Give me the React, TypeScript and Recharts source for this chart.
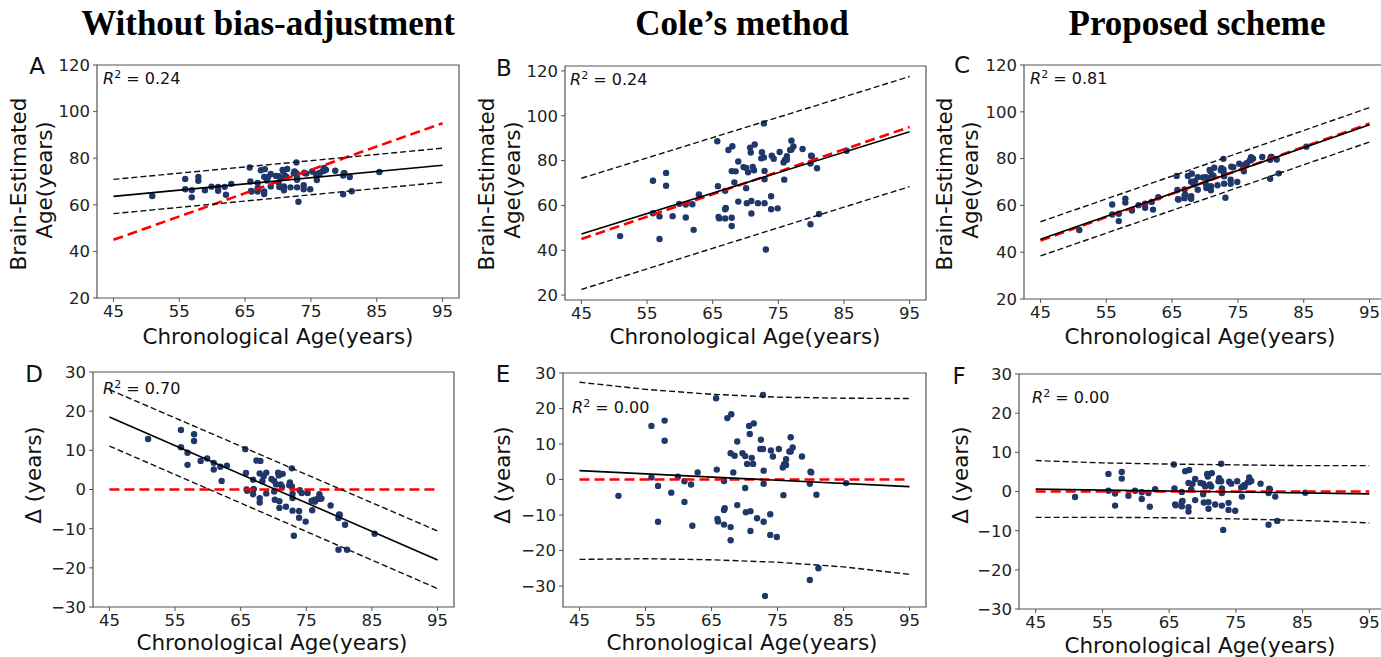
import React from "react";
import { ReferenceArea, Scatter, ScatterChart, XAxis, YAxis } from "recharts";

// chronological ages shared by every panel
const ages = [
  50.9, 55.9, 55.9, 56.9, 56.9, 57.9, 57.9, 58.9, 59.9, 60.9, 60.9, 61.9, 62.1, 62.9,
  65.7, 65.8, 65.9, 66.0, 66.9, 67.0, 66.9, 66.9, 67.4, 68.0, 67.9, 67.9, 67.9, 68.3,
  68.5, 68.9, 68.9, 69.7, 70.1, 70.1, 70.2, 70.4, 70.7, 70.8, 70.9, 70.9, 71.1, 71.3,
  71.4, 71.9, 72.5, 72.4, 72.8, 72.8, 72.9, 72.9, 72.9, 73.1, 73.9, 73.9, 74.0, 74.3,
  74.9, 75.2, 75.8, 75.9, 76.0, 76.3, 76.3, 76.8, 77.0, 77.0, 77.3, 78.7, 79.9, 80.0,
  80.1, 79.9, 80.9, 81.2, 85.4,
];

const brainRaw = [
  63.8, 71.1, 66.7, 66.3, 63.2, 72.0, 70.3, 66.2, 67.8, 67.7, 66.0, 67.7, 64.3, 69.0,
  76.0, 70.0, 65.9, 65.7, 69.4, 67.1, 66.9, 65.7, 74.8, 75.3, 72.0, 65.7, 64.6, 70.4,
  71.9, 73.2, 67.9, 72.4, 72.3, 69.6, 67.6, 71.7, 75.0, 74.4, 67.9, 66.2, 72.4, 72.0,
  75.4, 67.5, 74.3, 73.5, 78.2, 73.6, 71.8, 70.7, 67.5, 61.3, 68.4, 66.7, 73.8, 73.4,
  66.7, 74.3, 72.9, 70.6, 73.2, 73.7, 73.2, 74.5, 75.8, 74.6, 75.0, 74.6, 72.6, 73.6,
  73.6, 64.5, 71.9, 65.8, 74.1,
];

const brainCole = [
  46.3, 71.0, 56.5, 55.1, 45.0, 74.5, 68.8, 55.2, 60.7, 60.4, 54.6, 60.5, 49.1, 64.9,
  88.6, 68.6, 54.8, 54.2, 66.5, 58.9, 58.3, 54.2, 84.7, 86.4, 75.3, 54.5, 50.8, 70.3,
  75.2, 79.6, 61.7, 77.1, 76.7, 67.7, 61.0, 74.8, 85.8, 83.6, 62.0, 56.4, 77.2, 75.7,
  87.2, 61.0, 83.7, 81.0, 96.6, 81.4, 75.4, 71.7, 61.0, 40.3, 64.1, 58.3, 82.2, 80.8,
  58.7, 83.8, 79.2, 71.5, 80.3, 82.0, 80.4, 84.7, 88.9, 84.9, 86.3, 85.2, 78.7, 82.2,
  82.1, 51.6, 76.6, 56.2, 84.4,
];

const brainProposed = [
  49.5, 60.4, 56.1, 56.4, 53.3, 62.9, 61.2, 57.8, 60.1, 60.7, 59.0, 61.5, 58.2, 63.5,
  72.6, 66.6, 62.6, 62.5, 66.8, 64.6, 64.3, 63.1, 72.6, 73.5, 70.1, 63.9, 62.8, 68.9,
  70.5, 72.1, 66.7, 71.9, 72.1, 69.4, 67.4, 71.7, 75.2, 74.6, 68.2, 66.5, 72.9, 72.6,
  76.1, 68.6, 75.9, 75.0, 79.9, 75.4, 73.7, 72.5, 69.3, 63.3, 71.0, 69.2, 76.5, 76.3,
  70.0, 77.8, 76.8, 74.6, 77.3, 78.0, 77.5, 79.2, 80.6, 79.4, 80.0, 80.7, 79.5, 80.7,
  80.7, 71.4, 79.6, 73.7, 85.1,
];

const deltaRaw = [
  12.9, 15.2, 10.8, 9.4, 6.3, 14.1, 12.4, 7.3, 7.9, 6.8, 5.1, 5.8, 2.2, 6.1,
  10.3, 4.2, 0.0, -0.3, 2.5, 0.1, 0.0, -1.2, 7.4, 7.3, 4.1, -2.2, -3.3, 2.1,
  3.4, 4.3, -1.0, 2.7, 2.2, -0.5, -2.6, 1.3, 4.3, 3.6, -3.0, -4.7, 1.3, 0.7,
  4.0, -4.4, 1.8, 1.1, 5.4, 0.8, -1.1, -2.2, -5.4, -11.8, -5.5, -7.2, -0.2, -0.9,
  -8.2, -0.9, -2.9, -5.3, -2.8, -2.6, -3.1, -2.3, -1.2, -2.4, -2.3, -4.1, -7.3, -6.4,
  -6.5, -15.4, -9.0, -15.4, -11.3,
];

const deltaCole = [
  -4.6, 15.1, 0.6, -1.8, -11.9, 16.6, 10.9, -3.7, 0.8, -0.5, -6.3, -1.4, -13.0, 2.0,
  22.9, 2.8, -11.1, -11.8, -0.4, -8.1, -8.6, -12.7, 17.3, 18.4, 7.4, -13.4, -17.1, 2.0,
  6.7, 10.7, -7.2, 7.4, 6.6, -2.4, -9.2, 4.4, 15.1, 12.8, -8.9, -14.5, 6.1, 4.4,
  15.8, -10.9, 11.2, 8.6, 23.8, 8.6, 2.5, -1.2, -11.9, -32.8, -9.8, -15.6, 8.2, 6.5,
  -16.2, 8.6, 3.4, -4.4, 4.3, 5.7, 4.1, 7.9, 11.9, 7.9, 9.0, 6.5, -1.2, 2.2,
  2.0, -28.3, -4.3, -25.0, -1.0,
];

const deltaProposed = [
  -1.4, 4.5, 0.2, -0.5, -3.6, 5.0, 3.3, -1.1, 0.2, -0.2, -1.9, -0.4, -3.9, 0.6,
  6.9, 0.8, -3.3, -3.5, -0.1, -2.4, -2.6, -3.8, 5.2, 5.5, 2.2, -4.0, -5.1, 0.6,
  2.0, 3.2, -2.2, 2.2, 2.0, -0.7, -2.8, 1.3, 4.5, 3.8, -2.7, -4.4, 1.8, 1.3,
  4.7, -3.3, 3.4, 2.6, 7.1, 2.6, 0.8, -0.4, -3.6, -9.8, -2.9, -4.7, 2.5, 2.0,
  -4.9, 2.6, 1.0, -1.3, 1.3, 1.7, 1.2, 2.4, 3.6, 2.4, 2.7, 2.0, -0.4, 0.7,
  0.6, -8.5, -1.3, -7.5, -0.3,
];

// fitted lines and prediction bounds, [age, value]
const identity = [[45, 45], [95, 95]];
const zeroLine = [[45, 0], [95, 0]];

const fitRaw = [[45, 63.6], [95, 77.0]];
const upperRaw = [[45, 70.9], [95, 84.3]];
const lowerRaw = [[45, 56.2], [95, 69.7]];

const fitCole = [[45, 47.2], [95, 92.9]];
const upperCole = [[45, 72.1], [95, 117.5]];
const lowerCole = [[45, 22.5], [95, 68.4]];

const fitProposed = [[45, 45.5], [95, 94.5]];
const upperProposed = [[45, 53.0], [95, 101.8]];
const lowerProposed = [[45, 38.4], [95, 87.1]];

const fitDeltaRaw = [[45, 18.5], [95, -18.0]];
const upperDeltaRaw = [[45, 25.5], [95, -10.6]];
const lowerDeltaRaw = [[45, 11.1], [95, -25.3]];

const fitDeltaCole = [[45, 2.5], [95, -2.0]];
const upperDeltaCole = [[45, 27.4], [55, 25.4], [65, 24.0], [75, 23.2], [85, 22.9], [95, 22.8]];
const lowerDeltaCole = [[45, -22.5], [55, -22.3], [65, -22.6], [75, -23.3], [85, -24.6], [95, -26.7]];

const fitDeltaProposed = [[45, 0.6], [95, -0.6]];
const upperDeltaProposed = [[45, 7.9], [55, 7.3], [65, 7.0], [75, 6.8], [85, 6.6], [95, 6.6]];
const lowerDeltaProposed = [[45, -6.6], [55, -6.6], [65, -6.7], [75, -7.0], [85, -7.4], [95, -8.0]];

const ageTicks = [45, 55, 65, 75, 85, 95];
const brainTicks = [20, 40, 60, 80, 100, 120];
const deltaTicks = [-30, -20, -10, 0, 10, 20, 30];

const titles = ["Without bias-adjustment", "Cole\u2019s method", "Proposed scheme"];

const sans = "'DejaVu Sans', sans-serif";
const dotColor = "#1f3769";
const frameColor = "#555";
const tick = { fill: "#222", fontSize: 16.5, fontFamily: sans } as const;

const minus = (v: number) => (v < 0 ? `\u2212${-v}` : `${v}`);
const toXY = (pts: number[][]) => pts.map(([x, y]) => ({ x, y }));
const noShape = () => <g />;
const dot = (p: any) => <circle cx={p.cx} cy={p.cy} r={3.2} fill={dotColor} />;

interface PanelProps {
  plot: [number, number, number, number];
  yDomain: [number, number];
  yTicks: number[];
  values: number[];
  fit: number[][];
  upper: number[][];
  lower: number[][];
  reference: number[][];
}

function Panel({ plot, yDomain, yTicks, values, fit, upper, lower, reference }: PanelProps) {
  const [l, t, r, b] = plot;
  const points = ages.map((x, i) => ({ x, y: values[i] }));
  const xDomain: [number, number] = [42.5, 97.5];
  return (
    <div style={{ position: "absolute", left: l - 60, top: t - 10 }}>
      <ScatterChart
        width={r - l + 70}
        height={b - t + 40}
        margin={{ top: 10, right: 10, bottom: 0, left: 0 }}
      >
        <XAxis
          type="number"
          dataKey="x"
          domain={xDomain}
          ticks={ageTicks}
          interval={0}
          allowDataOverflow
          height={30}
          tick={tick}
          tickSize={4}
          tickMargin={3}
          axisLine={false}
          tickLine={{ stroke: frameColor }}
        />
        <YAxis
          type="number"
          dataKey="y"
          domain={yDomain}
          ticks={yTicks}
          interval={0}
          allowDataOverflow
          width={60}
          tick={tick}
          tickSize={4}
          tickMargin={3}
          axisLine={false}
          tickLine={{ stroke: frameColor }}
          tickFormatter={minus}
        />
        <Scatter data={points} shape={dot} isAnimationActive={false} />
        <Scatter
          data={toXY(reference)}
          shape={noShape}
          line={{ stroke: "#ff0000", strokeWidth: 2.6, strokeDasharray: "10 5" }}
          isAnimationActive={false}
        />
        <Scatter
          data={toXY(upper)}
          shape={noShape}
          line={{ stroke: "#111", strokeWidth: 1.4, strokeDasharray: "6 3" }}
          isAnimationActive={false}
        />
        <Scatter
          data={toXY(lower)}
          shape={noShape}
          line={{ stroke: "#111", strokeWidth: 1.4, strokeDasharray: "6 3" }}
          isAnimationActive={false}
        />
        <Scatter
          data={toXY(fit)}
          shape={noShape}
          line={{ stroke: "#000", strokeWidth: 1.6 }}
          isAnimationActive={false}
        />
        <ReferenceArea
          x1={xDomain[0]}
          x2={xDomain[1]}
          y1={yDomain[0]}
          y2={yDomain[1]}
          fill="none"
          stroke={frameColor}
          strokeWidth={1.2}
          ifOverflow="visible"
        />
      </ScatterChart>
    </div>
  );
}

function Text({ x, y, size, children, rotate, style }: any) {
  return (
    <div
      style={{
        position: "absolute",
        left: x,
        top: y,
        transform: `translate(-50%, -50%)${rotate ? " rotate(-90deg)" : ""}`,
        whiteSpace: "nowrap",
        fontFamily: sans,
        fontSize: size,
        lineHeight: 1,
        color: "#111",
        ...style,
      }}
    >
      {children}
    </div>
  );
}

function R2({ x, y, value }: { x: number; y: number; value: string }) {
  return (
    <div
      style={{
        position: "absolute",
        left: x,
        top: y,
        fontFamily: sans,
        fontSize: 16,
        lineHeight: 1,
        color: "#111",
        whiteSpace: "nowrap",
      }}
    >
      <i>R</i>
      <sup style={{ fontSize: 11, verticalAlign: 6 }}>2</sup> = {value}
    </div>
  );
}

export default function App() {
  return (
    <div
      style={{
        position: "absolute",
        left: 0,
        top: 0,
        width: 1381,
        height: 657,
        overflow: "hidden",
        background: "#fff",
      }}
    >
      {titles.map((s, i) => (
        <Text
          key={s}
          x={[268, 742, 1197][i]}
          y={23}
          size={35}
          style={{ fontFamily: "'Liberation Serif', 'Times New Roman', serif", fontWeight: 700, color: "#000" }}
        >
          {s}
        </Text>
      ))}

      <Panel plot={[97, 65, 459, 298]} yDomain={[20, 120]} yTicks={brainTicks} values={brainRaw}
        fit={fitRaw} upper={upperRaw} lower={lowerRaw} reference={identity} />
      <Panel plot={[565, 66, 926, 300]} yDomain={[17.8, 122.2]} yTicks={brainTicks} values={brainCole}
        fit={fitCole} upper={upperCole} lower={lowerCole} reference={identity} />
      <Panel plot={[1024, 65, 1386, 299]} yDomain={[20, 120]} yTicks={brainTicks} values={brainProposed}
        fit={fitProposed} upper={upperProposed} lower={lowerProposed} reference={identity} />
      <Panel plot={[93, 372, 454, 607]} yDomain={[-30, 30]} yTicks={deltaTicks} values={deltaRaw}
        fit={fitDeltaRaw} upper={upperDeltaRaw} lower={lowerDeltaRaw} reference={zeroLine} />
      <Panel plot={[563, 373, 926, 607]} yDomain={[-35.9, 30]} yTicks={deltaTicks} values={deltaCole}
        fit={fitDeltaCole} upper={upperDeltaCole} lower={lowerDeltaCole} reference={zeroLine} />
      <Panel plot={[1019, 374, 1386, 609]} yDomain={[-30, 30]} yTicks={deltaTicks} values={deltaProposed}
        fit={fitDeltaProposed} upper={upperDeltaProposed} lower={lowerDeltaProposed} reference={zeroLine} />

      {/* panel letters */}
      <Text x={37} y={66} size={23}>A</Text>
      <Text x={504} y={68} size={23}>B</Text>
      <Text x={962} y={65} size={23}>C</Text>
      <Text x={34} y={374} size={23}>D</Text>
      <Text x={503} y={374} size={23}>E</Text>
      <Text x={959} y={376} size={23}>F</Text>

      {/* y labels */}
      <Text x={19} y={184} size={21.5} rotate>Brain-Estimated</Text>
      <Text x={45} y={180} size={21.5} rotate>Age(years)</Text>
      <Text x={487} y={184} size={21.5} rotate>Brain-Estimated</Text>
      <Text x={513} y={180} size={21.5} rotate>Age(years)</Text>
      <Text x={945} y={184} size={21.5} rotate>Brain-Estimated</Text>
      <Text x={971} y={180} size={21.5} rotate>Age(years)</Text>
      <Text x={34} y={475} size={21.5} rotate>{"\u0394 (years)"}</Text>
      <Text x={503} y={475} size={21.5} rotate>{"\u0394 (years)"}</Text>
      <Text x={961} y={475} size={21.5} rotate>{"\u0394 (years)"}</Text>

      {/* x labels */}
      <Text x={278} y={337} size={21.5}>Chronological Age(years)</Text>
      <Text x={745} y={337} size={21.5}>Chronological Age(years)</Text>
      <Text x={1200} y={337} size={21.5}>Chronological Age(years)</Text>
      <Text x={272} y={643} size={21.5}>Chronological Age(years)</Text>
      <Text x={742} y={643} size={21.5}>Chronological Age(years)</Text>
      <Text x={1200} y={646} size={21.5}>Chronological Age(years)</Text>

      <R2 x={103} y={69} value="0.24" />
      <R2 x={570} y={70} value="0.24" />
      <R2 x={1030} y={69} value="0.81" />
      <R2 x={103} y={379} value="0.70" />
      <R2 x={572} y={398} value="0.00" />
      <R2 x={1032} y={388} value="0.00" />
    </div>
  );
}
